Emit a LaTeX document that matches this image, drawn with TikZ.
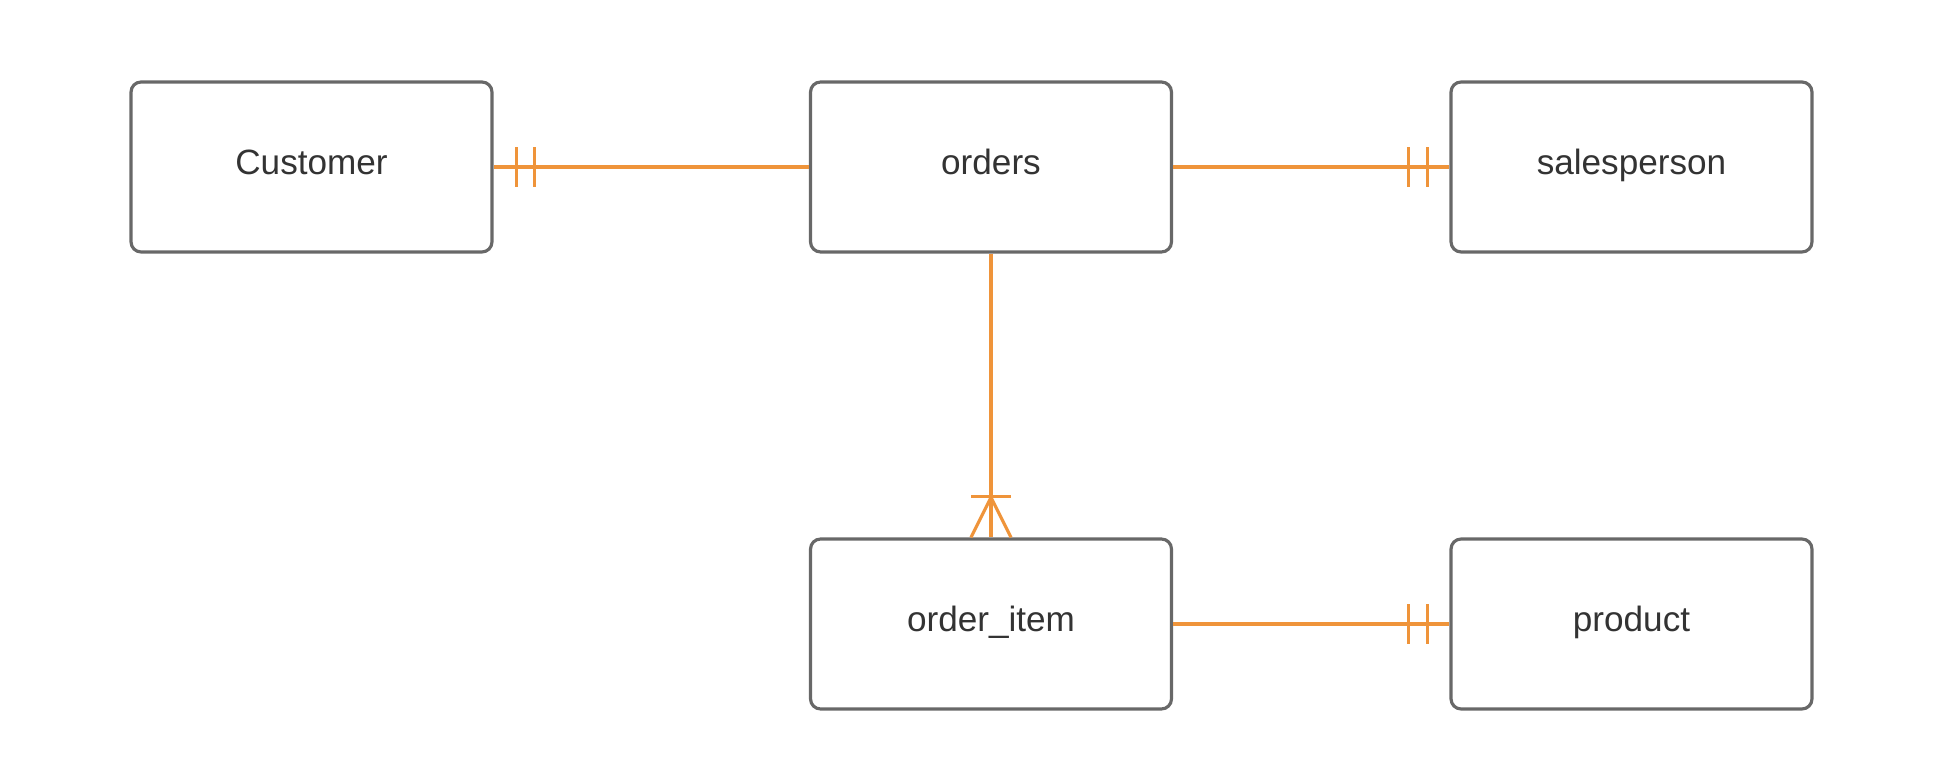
\documentclass[tikz,border=0pt]{standalone}
\usepackage{fontspec}
\setmainfont{Liberation Sans}
\usetikzlibrary{calc}
\definecolor{relorange}{RGB}{239,148,58}
\definecolor{boxgray}{RGB}{104,104,104}
\definecolor{textgray}{RGB}{51,51,51}
\tikzset{
	entity/.style={draw=boxgray, line width=1.8pt, rounded corners=0.2cm, minimum width=7.22cm, minimum height=3.4cm, text=textgray, text height=14pt, text depth=5pt, font=\fontsize{20}{24}\selectfont},
	rel/.style={draw=relorange, line width=1.8pt}
}

\begin{document}
\begin{tikzpicture}[x=0.02cm, y=0.02cm]
			%%%%% START %%%%%
			\useasboundingbox (0, 0) rectangle (1940, 770);
			
			\node[entity] (customer) at (311.5, 603) {Customer};
			\node[entity] (orders) at (991, 603) {orders};
			\node[entity] (salesperson) at (1631.5, 603) {salesperson};
			\node[entity] (item) at (991, 146) {order\_item};
			\node[entity] (product) at (1631.5, 146) {product};
			
			\draw[rel] (customer.east) -- (orders.west);
			\draw[rel] ($(customer.east)+(23, -20)$) -- ($(customer.east)+(23, 20)$);
			\draw[rel] ($(customer.east)+(41, -20)$) -- ($(customer.east)+(41, 20)$);
			
			\draw[rel] (orders.east) -- (salesperson.west);
			\draw[rel] ($(salesperson.west)+(-41, -20)$) -- ($(salesperson.west)+(-41, 20)$);
			\draw[rel] ($(salesperson.west)+(-22, -20)$) -- ($(salesperson.west)+(-22, 20)$);
			
			\draw[rel] (item.east) -- (product.west);
			\draw[rel] ($(product.west)+(-41, -20)$) -- ($(product.west)+(-41, 20)$);
			\draw[rel] ($(product.west)+(-22, -20)$) -- ($(product.west)+(-22, 20)$);
			
			\draw[rel] (orders.south) -- (item.north);
			\draw[rel] ($(item.north)+(-20, 41)$) -- ($(item.north)+(20, 41)$);
			\draw[rel] ($(item.north)+(-20, 0)$) -- ($(item.north)+(0, 40)$) -- ($(item.north)+(20, 0)$);
			
			%%%%% END %%%%%
\end{tikzpicture}
\end{document}
